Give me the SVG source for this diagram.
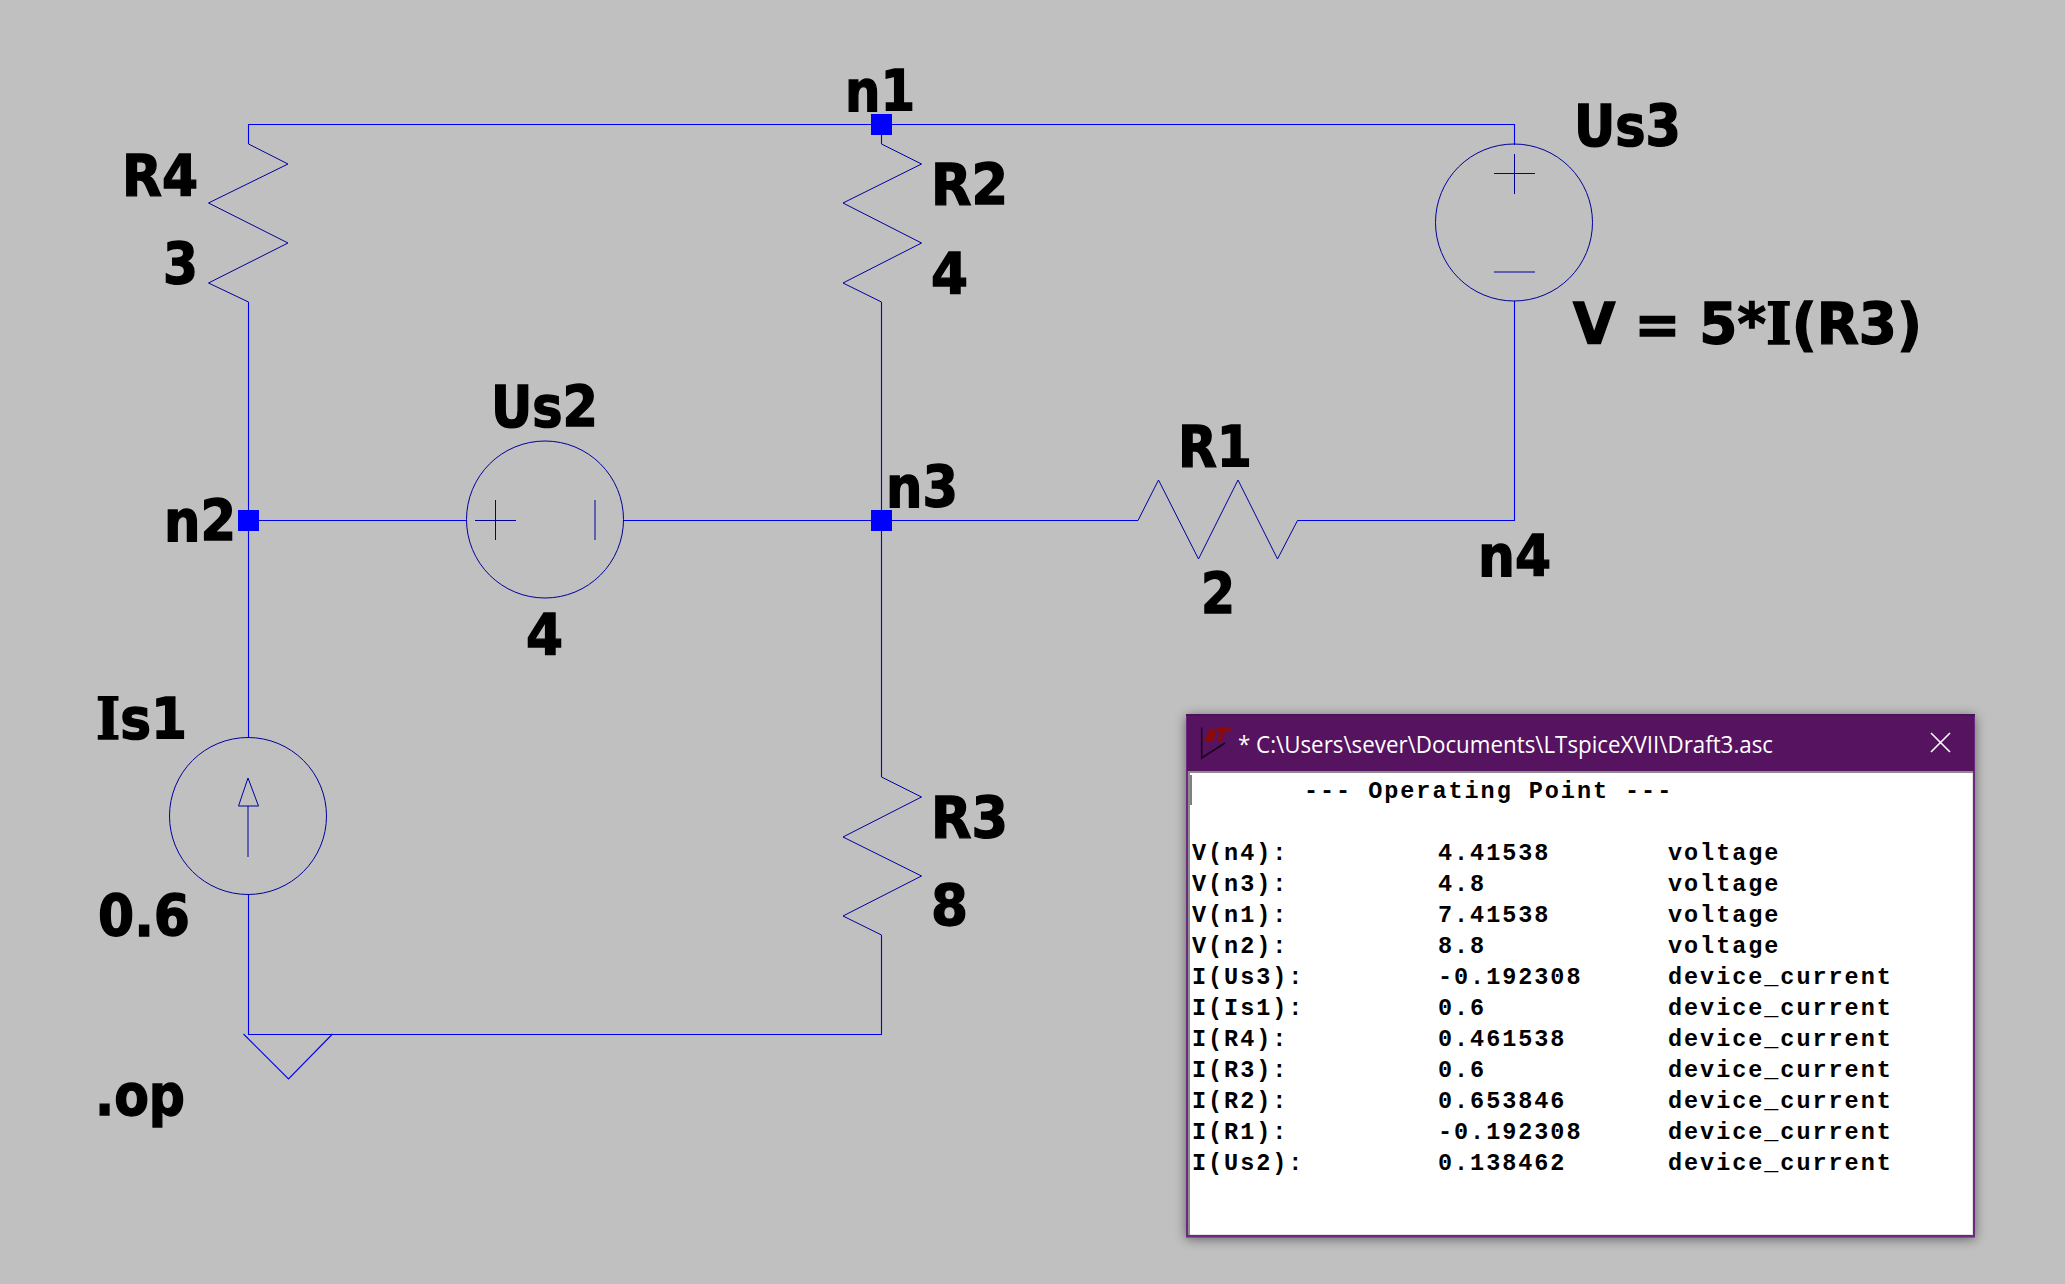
<svg xmlns="http://www.w3.org/2000/svg" width="2065" height="1284" viewBox="0 0 2065 1284">
<style>
.w{fill:none;stroke:#0000f0;stroke-width:1.1}
.c{fill:none;stroke:#00009c;stroke-width:1}
.j{fill:#0000ff;stroke:none}
.l{font-family:"DejaVu Sans",Verdana,sans-serif;font-weight:700;font-size:57px;font-stretch:condensed;fill:#000;stroke:#000;stroke-width:1.300}
.i{font-family:"DejaVu Serif",serif}
.m{font-family:"Liberation Mono",monospace;font-weight:700;font-size:23.5px;letter-spacing:1.95px;fill:#000;white-space:pre}
</style>
<defs>
<filter id="sh" x="-5%" y="-5%" width="110%" height="110%"><feGaussianBlur stdDeviation="6"/></filter>
</defs>
<rect id="bg" width="2065" height="1284" fill="#c0c0c0"/>
<g id="connectors">
<path class="w" d="M248.500 144V124.500H1514.500V145"/>
<path class="w" d="M881.500 124.500V144"/>
<path class="w" d="M248.500 302V738"/>
<path class="w" d="M248.500 895V1034.500H881.500V935"/>
<path class="w" d="M881.500 302V777"/>
<path class="w" d="M248 520.500H467"/>
<path class="w" d="M623 520.500H1138"/>
<path class="w" d="M1297.500 520.500H1514.500V301"/>
</g>
<g id="R4"><path class="c" d="M248.500 144L288 164L208.500 203L288 243L208.500 283L248.500 302"/><text class="l" x="122" y="196" textLength="76" lengthAdjust="spacingAndGlyphs">R4</text><text class="l" x="163" y="284" textLength="35" lengthAdjust="spacingAndGlyphs">3</text></g>
<g id="R2"><path class="c" d="M881.500 144L921.500 164L843 203L921.500 243L843 283L881.500 302"/><text class="l" x="931" y="205" textLength="77" lengthAdjust="spacingAndGlyphs">R2</text><text class="l" x="931" y="294" textLength="37" lengthAdjust="spacingAndGlyphs">4</text></g>
<g id="R3"><path class="c" d="M881.500 777L921.500 797L843 837L921.500 876L843 916L881.500 935"/><text class="l" x="931" y="838" textLength="77" lengthAdjust="spacingAndGlyphs">R3</text><text class="l" x="931" y="926" textLength="37" lengthAdjust="spacingAndGlyphs">8</text></g>
<g id="R1"><path class="c" d="M1138 520.500L1158.500 480L1198.500 559L1238 480L1277.500 559L1297.500 520.500"/><text class="l" x="1178" y="467" textLength="74" lengthAdjust="spacingAndGlyphs">R1</text><text class="l" x="1201" y="614" textLength="34" lengthAdjust="spacingAndGlyphs">2</text></g>
<g id="Us2"><circle class="c" cx="545" cy="519.500" r="78.500"/><path class="c" d="M495.500 500V540M475 520.500H516M595 500V540"/><text class="l" x="491" y="427" textLength="107" lengthAdjust="spacingAndGlyphs">Us2</text><text class="l" x="526" y="655" textLength="37" lengthAdjust="spacingAndGlyphs">4</text></g>
<g id="Us3"><circle class="c" cx="1514" cy="222.500" r="78.500"/><path class="c" d="M1514.500 154V194M1494 173.500H1535M1494 272H1535"/><text class="l" x="1574" y="146" textLength="107" lengthAdjust="spacingAndGlyphs">Us3</text><text class="l" x="1573" y="344" textLength="349" lengthAdjust="spacingAndGlyphs">V = 5*<tspan class="i">I</tspan>(R3)</text></g>
<g id="Is1"><circle class="c" cx="248" cy="816" r="78.500"/><path class="c" d="M248 857V806M238.500 806H258.500L248 778Z"/><text class="l" x="96" y="739" textLength="91" lengthAdjust="spacingAndGlyphs"><tspan class="i">I</tspan>s1</text><text class="l" x="98" y="936" textLength="92" lengthAdjust="spacingAndGlyphs">0.6</text></g>
<g id="gnd"><path class="w" d="M243.500 1034L288.500 1079L332.500 1034"/></g>
<g id="n1"><rect class="j" x="871" y="114" width="21" height="21"/><text class="l" x="845" y="111" textLength="70" lengthAdjust="spacingAndGlyphs">n1</text></g>
<g id="n2"><rect class="j" x="238" y="510" width="21" height="21"/><text class="l" x="164" y="541" textLength="72" lengthAdjust="spacingAndGlyphs">n2</text></g>
<g id="n3"><rect class="j" x="871" y="510" width="21" height="21"/><text class="l" x="886" y="507" textLength="72" lengthAdjust="spacingAndGlyphs">n3</text></g>
<g id="n4"><text class="l" x="1478" y="576" textLength="73" lengthAdjust="spacingAndGlyphs">n4</text></g>
<g id="directive"><text class="l" x="95" y="1115" textLength="90" lengthAdjust="spacingAndGlyphs">.op</text></g>
<g id="window">
<rect x="1186" y="716" width="789" height="523" fill="#000" opacity=".5" filter="url(#sh)"/>
<rect x="1186" y="714" width="789" height="523.500" fill="#6b2a80"/>
<rect x="1186" y="714" width="789" height="2" fill="#4a1158"/>
<rect x="1187" y="716" width="787" height="55" fill="#56135f"/>
<rect x="1188" y="771" width="785" height="464" fill="#e2e2e2"/>
<rect x="1188" y="771" width="785" height="2" fill="#8c8c8c"/>
<rect x="1188" y="771" width="2" height="464" fill="#8c8c8c"/>
<rect x="1190" y="773" width="782" height="461" fill="#fff"/>
<path d="M1201.700 727.500V758L1225 743" fill="none" stroke="#1a0620" stroke-width="1.600"/>
<path d="M1210 728.700H1217L1213.300 741.300H1204ZM1217.300 728H1231.700L1229.300 732H1225L1220.700 742H1216.700L1220.700 732H1216Z" fill="#8b0a0a"/>
<text x="1238" y="753" font-family="'Open Sans',sans-serif" font-size="23" fill="#fff" textLength="535" lengthAdjust="spacingAndGlyphs">* C:\Users\sever\Documents\LTspiceXVII\Draft3.asc</text>
<path d="M1931 733L1950 752M1950 733L1931 752" stroke="#fff" stroke-width="1.600" fill="none"/>
<path d="M1191 775V805" stroke="#000" stroke-width="1"/>
<text class="m" x="1304" y="798">--- Operating Point ---</text>
<text class="m" x="1192" y="860">V(n4):</text><text class="m" x="1438" y="860">4.41538</text><text class="m" x="1668" y="860">voltage</text>
<text class="m" x="1192" y="891">V(n3):</text><text class="m" x="1438" y="891">4.8</text><text class="m" x="1668" y="891">voltage</text>
<text class="m" x="1192" y="922">V(n1):</text><text class="m" x="1438" y="922">7.41538</text><text class="m" x="1668" y="922">voltage</text>
<text class="m" x="1192" y="953">V(n2):</text><text class="m" x="1438" y="953">8.8</text><text class="m" x="1668" y="953">voltage</text>
<text class="m" x="1192" y="984">I(Us3):</text><text class="m" x="1438" y="984">-0.192308</text><text class="m" x="1668" y="984">device_current</text>
<text class="m" x="1192" y="1015">I(Is1):</text><text class="m" x="1438" y="1015">0.6</text><text class="m" x="1668" y="1015">device_current</text>
<text class="m" x="1192" y="1046">I(R4):</text><text class="m" x="1438" y="1046">0.461538</text><text class="m" x="1668" y="1046">device_current</text>
<text class="m" x="1192" y="1077">I(R3):</text><text class="m" x="1438" y="1077">0.6</text><text class="m" x="1668" y="1077">device_current</text>
<text class="m" x="1192" y="1108">I(R2):</text><text class="m" x="1438" y="1108">0.653846</text><text class="m" x="1668" y="1108">device_current</text>
<text class="m" x="1192" y="1139">I(R1):</text><text class="m" x="1438" y="1139">-0.192308</text><text class="m" x="1668" y="1139">device_current</text>
<text class="m" x="1192" y="1170">I(Us2):</text><text class="m" x="1438" y="1170">0.138462</text><text class="m" x="1668" y="1170">device_current</text>
</g>
</svg>
